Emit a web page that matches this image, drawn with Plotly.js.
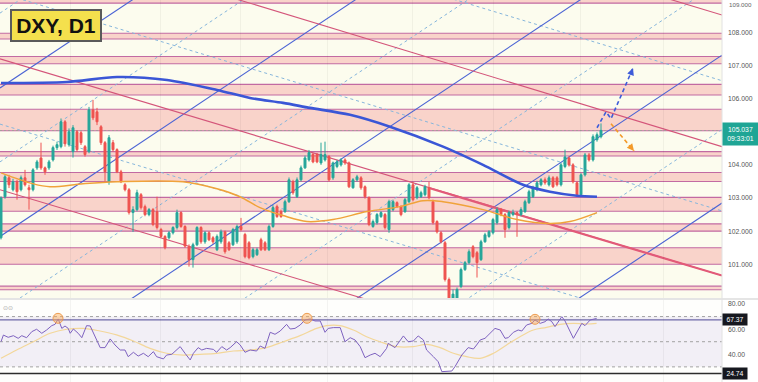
<!DOCTYPE html>
<html><head><meta charset="utf-8">
<script src="https://cdn.plot.ly/plotly-3.0.1.min.js"></script>
<style>html,body{margin:0;padding:0;background:#fff;}#chart{width:758px;height:382px;}</style>
</head><body><div id="chart"></div>
<script>
// ---- Candles (DXY daily) ----
const open = [
101.80,103.04,103.61,103.25,103.49,103.25,103.61,103.31,103.25,103.91,
104.21,103.91,103.91,104.15,104.52,104.55,105.30,104.61,104.40,105.00,
104.97,104.55,104.40,105.66,105.60,105.15,104.67,103.49,104.67,104.46,
103.79,103.40,103.25,102.56,102.65,103.10,102.74,102.50,102.65,102.59,
102.05,101.84,101.80,101.95,102.11,102.56,102.14,101.53,101.14,101.59,
102.11,101.68,101.95,101.80,101.44,101.68,101.98,101.65,101.59,101.68,
102.14,101.90,101.65,101.23,101.29,101.74,101.65,101.44,102.14,102.74,
102.59,102.59,102.89,103.49,103.04,103.55,103.91,104.15,104.31,104.31,
104.06,104.15,104.25,103.61,103.95,104.00,104.15,104.06,103.31,103.55,
103.61,103.34,103.01,102.14,102.26,102.44,102.50,102.05,102.65,102.86,
102.74,102.59,102.89,103.40,103.01,103.04,103.10,103.31,102.89,102.29,
101.95,101.65,100.54,99.85,99.90,100.33,100.84,101.05,101.53,101.35,
101.14,101.68,101.84,101.95,102.26,102.65,102.50,102.11,102.50,102.56,
102.50,102.59,102.86,103.04,103.25,103.40,103.55,103.40,103.61,103.61,
103.40,103.95,104.21,104.00,103.46,103.10,103.70,104.30,104.15,104.76,
104.85];
const high = [
103.05,103.70,103.70,103.58,103.55,103.68,103.85,103.40,103.90,104.15,
104.67,103.95,104.15,104.58,104.70,105.40,105.35,105.10,105.20,105.05,
105.02,104.60,105.75,105.96,105.72,105.20,104.72,104.90,104.75,104.50,
103.85,103.45,103.30,102.75,103.25,103.15,102.80,102.70,102.70,103.04,
102.10,101.88,102.00,102.15,102.65,102.60,102.18,101.60,101.65,102.15,
102.15,102.00,102.00,101.85,101.90,102.05,102.02,101.70,102.10,102.20,
102.40,101.95,101.70,101.50,101.50,101.80,101.70,102.20,102.78,102.80,
102.65,102.95,103.62,103.55,103.62,103.98,104.28,104.45,104.36,104.36,
104.67,104.70,104.30,104.10,104.15,104.20,104.20,104.10,103.60,103.70,
103.66,103.38,103.05,102.35,102.55,102.60,102.55,102.95,102.95,102.90,
102.78,103.00,103.45,103.49,103.36,103.22,103.40,103.49,102.95,102.33,
102.00,101.70,100.60,100.24,100.30,100.90,101.10,101.45,101.58,101.40,
101.74,101.95,102.03,102.40,102.72,102.70,102.55,102.62,102.65,102.60,
102.72,102.95,103.25,103.37,103.52,103.60,103.62,103.68,103.66,103.66,
104.06,104.46,104.26,104.05,103.50,103.75,104.36,104.36,104.92,104.98,
105.25];
const low = [
101.75,102.98,103.30,103.20,102.95,103.20,103.35,102.65,103.20,103.85,
103.85,103.70,103.85,104.10,104.45,104.50,104.55,104.55,104.22,104.40,
104.60,104.25,104.35,105.35,105.20,104.60,103.49,103.40,104.40,103.75,
103.45,103.20,102.50,101.98,102.60,102.65,102.45,102.45,102.15,102.05,
101.80,101.45,101.75,101.90,102.05,102.10,101.50,100.93,100.90,101.55,
101.62,101.62,101.70,101.62,101.40,101.62,101.32,101.40,101.55,101.62,
102.00,101.18,101.15,101.18,101.25,101.40,101.40,101.40,102.10,102.40,
102.40,102.55,102.85,103.10,103.00,103.50,103.88,104.10,104.05,104.05,
104.00,104.10,103.50,103.55,103.90,103.95,104.00,103.30,103.28,103.50,
103.25,102.98,102.15,102.10,102.20,102.40,102.05,101.95,102.60,102.70,
102.45,102.55,102.85,102.90,102.96,103.00,103.05,102.96,102.20,101.93,
101.63,100.48,99.60,99.60,99.80,100.28,100.80,101.00,101.18,100.60,
101.10,101.65,101.80,101.90,102.20,102.45,101.80,102.05,102.45,101.83,
102.45,102.55,102.82,103.00,103.20,103.35,103.40,103.35,103.30,103.35,
103.35,103.90,103.95,103.44,103.04,103.05,103.65,104.10,104.10,104.70,
104.80];
const close = [
103.00,103.64,103.40,103.49,103.19,103.61,103.40,103.25,103.85,104.09,
103.91,103.79,104.09,104.52,104.61,105.30,104.64,105.00,105.12,104.46,
104.67,104.31,105.66,105.42,105.30,104.67,103.79,104.82,104.46,103.79,
103.49,103.25,102.56,102.65,103.16,102.71,102.50,102.65,102.20,102.11,
101.84,101.50,101.95,102.11,102.56,102.14,101.55,101.14,101.59,102.11,
101.68,101.95,101.74,101.68,101.84,101.98,101.38,101.44,102.05,102.14,
102.05,101.23,101.20,101.44,101.44,101.44,101.44,102.14,102.71,102.44,
102.44,102.89,103.55,103.16,103.55,103.91,104.21,104.37,104.09,104.09,
104.31,104.31,103.55,104.06,104.09,104.15,104.06,103.34,103.55,103.64,
103.31,103.04,102.20,102.29,102.50,102.56,102.11,102.89,102.89,102.74,
102.50,102.95,103.40,102.95,103.31,103.16,103.34,103.01,102.26,101.98,
101.68,100.54,99.85,100.10,100.24,100.84,101.05,101.38,101.23,101.05,
101.68,101.89,101.98,102.35,102.65,102.50,102.05,102.56,102.56,102.50,
102.65,102.89,103.19,103.31,103.46,103.55,103.46,103.61,103.34,103.40,
104.00,104.24,104.00,103.49,103.10,103.70,104.30,104.15,104.85,104.91,
105.04];
const lastPrice = 105.037;

// ---- Moving averages (read at sample candles) ----
const smaBlueIdx = [0,16.5,29,41.5,54,62.25,70.5,77.25,87.25,97.25,110.5,120.5,130.5,137.25,144,149];
const smaBlue    = [106.47,106.50,106.65,106.56,106.26,106.02,105.87,105.72,105.51,105.15,104.55,104.00,103.40,103.19,103.07,103.04];
const smaOrangeIdx = [0,8,12.25,20.5,29,45.5,54,59.75,64.75,70.5,76.5,83,91.5,99.75,105.5,110.5,120.5,129,137.25,142.25,149];
const smaOrange    = [103.76,103.43,103.34,103.43,103.49,103.49,103.28,103.04,102.71,102.47,102.29,102.35,102.59,102.74,102.92,102.89,102.65,102.35,102.23,102.29,102.56];

// ---- Horizontal zones (price low / high) ----
const zoneLow  = [108.88,107.80,107.05,106.11,105.03,104.27,103.50,102.60,102.00,101.00,100.23];
const zoneHigh = [109.20,107.97,107.27,106.43,105.68,104.40,103.77,103.02,102.22,101.50,100.34];

// ---- Trend channels: price at left edge / right edge of chart ----
const edgeIdx = [-0.25, 180.25];
const redLeft  = [115.13,111.17,107.20,103.25];
const redRight = [108.52,104.55,100.66,96.73];
const redMidLeft  = [113.15,109.19,105.23];
const redMidRight = [106.54,102.61,98.70];
const blueLeft  = [106.32,101.84,97.32,92.80,88.34];
const blueRight = [120.83,116.35,111.83,107.31,102.85];
const blueMidLeft  = [108.58,104.09,99.58,95.06,90.57];
const blueMidRight = [123.09,118.60,114.08,109.56,105.07];
const boldRedIdx = [107, 180.25];
const boldRedVal = [103.30, 100.66];

// ---- Forecast paths ----
const fcBlueIdx = [149,151.25,152.5,158];
const fcBlueVal = [105.12,105.60,105.39,106.92];
const fcOrangeIdx = [152.5,158.25];
const fcOrangeVal = [105.24,104.42];

// ---- Month separators ----
const monthIdx = [17.25,39.75,59.75,81.5,102.75,123,144.75,165.5];

// ---- RSI ----
const rsiIdx = [0,0.6,1.8,3.1,4.3,5.2,6.4,7.7,8.9,10.2,11.4,12.7,13.5,14.3,15.2,16,16.8,17.3,18.1,19.3,
20.2,21.4,22.3,23.5,24.8,26,27.3,28.5,29.8,31,31.8,33.1,34.3,35.6,36.8,38.1,38.9,40.6,41.4,42.7,
43.5,44.8,46,47.3,48.1,49.3,50.2,51.4,53.1,53.9,55.2,56.4,57.3,58.9,59.8,61,62.3,63.9,64.8,66,
67.3,68.5,69.8,71.4,72.3,73.5,74.8,76,77.3,78.5,79.8,81,81.8,83.1,84.8,86,87.3,88.5,89.8,91,
92.3,93.5,94.8,96.4,96.8,98.5,100.6,101.8,103.1,104.3,105.6,106.4,108.1,109.3,110.2,111.4,112.7,113.5,115.2,116.8,
118.1,118.9,119.8,121,121.8,123.5,124.8,126,126.8,128.1,129.3,130.2,131.4,132.7,133.5,134.8,136,136.8,137.7,138.5,
140.2,141,143.1,144.3,145.2,146,147.3,148.9];
const rsi = [50.0,55.3,53.5,54.8,52.7,54.8,53.2,58.0,59.9,56.7,59.3,62.8,63.8,68.1,60.6,62.5,60.6,56.7,60.1,56.7,
53.2,62.8,62.5,54.0,45.3,45.3,52.2,47.4,43.4,43.4,38.1,41.6,38.6,40.8,38.1,42.1,38.1,36.3,39.4,40.0,
42.6,46.1,40.8,35.5,40.8,45.3,43.4,44.7,43.9,41.6,46.1,43.4,45.3,50.0,47.4,41.6,43.4,42.6,46.6,44.7,
57.5,55.9,58.5,63.8,60.1,60.6,63.3,67.3,68.1,66.5,66.5,57.5,60.6,61.2,61.2,50.0,53.2,51.4,46.1,37.3,
39.4,40.8,38.1,44.7,48.7,45.3,54.6,50.0,50.6,54.6,51.4,43.4,38.1,34.1,26.2,26.7,26.7,30.2,39.4,45.3,
44.2,47.4,51.4,52.7,55.4,60.6,59.3,52.7,53.2,57.5,59.3,58.5,63.3,64.6,67.3,64.6,65.9,68.1,65.9,62.0,
69.9,66.5,52.7,59.3,64.6,62.8,67.3,68.5];
const rsiMaIdx = [0,3.9,8.1,12.3,16.4,20.6,24.75,28.9,33.1,37.25,41.4,45.6,49.75,53.9,58.1,62.25,66.4,70.6,74.75,78.9,
81.4,84.75,88.1,91.4,94.75,98.9,103.1,106.4,109.75,113.1,116.4,119.75,123.1,126.4,129.75,133.1,136.4,139.75,143.1,146.4,148.9];
const rsiMa = [36.8,43.4,50.0,56.7,59.9,60.6,58.5,55.4,50.6,44.7,40.8,39.4,40.0,40.8,42.6,43.4,45.3,50.0,54.8,60.6,
62.8,62.8,59.3,54.0,50.0,46.1,46.1,47.9,45.3,40.8,38.1,36.8,40.8,47.4,54.0,59.3,61.4,63.8,64.6,64.1,64.6];
const rsiPeakIdx = [14.25,76.5,133.5];
const rsiPeakVal = [68.6,68.6,67.8];
const rsiLast = 67.37, rsiLow = 24.74;

const mainTicks = [101,102,103,104,106,107,108];
const rsiTicks = [40,60,80];

// ------------------------------------------------------------
const candleIdx = close.map((_, i) => i);
const GREEN = '#26a69a', RED = '#ef5350';
const FONT = 'Liberation Sans, Arial, sans-serif';

const traces = [
  {type:'candlestick', x:candleIdx, open, high, low, close, xaxis:'x', yaxis:'y',
   increasing:{line:{color:GREEN,width:1}, fillcolor:GREEN},
   decreasing:{line:{color:RED,width:1}, fillcolor:RED},
   whiskerwidth:0, hoverinfo:'skip', showlegend:false},
  {type:'scatter', mode:'lines', x:smaBlueIdx, y:smaBlue, xaxis:'x', yaxis:'y',
   line:{color:'#3a56d6', width:2.6, shape:'spline', smoothing:0.8}, hoverinfo:'skip', showlegend:false},
  {type:'scatter', mode:'lines', x:smaOrangeIdx, y:smaOrange, xaxis:'x', yaxis:'y',
   line:{color:'#f0a33a', width:1.5, shape:'spline'}, hoverinfo:'skip', showlegend:false},
  {type:'scatter', mode:'lines', x:fcBlueIdx, y:fcBlueVal, xaxis:'x', yaxis:'y',
   line:{color:'#3d5bd9', width:1.6, dash:'4px,3px'}, hoverinfo:'skip', showlegend:false},
  {type:'scatter', mode:'lines', x:fcOrangeIdx, y:fcOrangeVal, xaxis:'x', yaxis:'y',
   line:{color:'#f39a2a', width:1.6, dash:'4px,3px'}, hoverinfo:'skip', showlegend:false},
  {type:'scatter', mode:'lines', x:rsiMaIdx, y:rsiMa, xaxis:'x', yaxis:'y2',
   line:{color:'#f3d79a', width:1.2, shape:'spline'}, hoverinfo:'skip', showlegend:false},
  {type:'scatter', mode:'lines', x:rsiIdx, y:rsi, xaxis:'x', yaxis:'y2',
   line:{color:'#7e62c0', width:1}, hoverinfo:'skip', showlegend:false},
  {type:'scatter', mode:'markers', x:rsiPeakIdx, y:rsiPeakVal, xaxis:'x', yaxis:'y2',
   marker:{size:10, color:'rgba(255,170,80,0.45)', line:{color:'rgba(235,150,70,0.9)', width:1}},
   hoverinfo:'skip', showlegend:false}
];

const shapes = [];
// RSI pane background
shapes.push({type:'rect', layer:'below', xref:'paper', x0:0, x1:1, yref:'y2', y0:0, y1:100, fillcolor:'#fefefc', line:{width:0}});
shapes.push({type:'rect', layer:'below', xref:'paper', x0:0, x1:1, yref:'y2', y0:30, y1:70, fillcolor:'rgba(126,87,194,0.09)', line:{width:0}});
// zones
zoneLow.forEach((lo, k) => {
  const hi = zoneHigh[k];
  shapes.push({type:'rect', layer:'below', xref:'paper', x0:0, x1:1, yref:'y', y0:lo, y1:hi, fillcolor:'#f9d3ca', line:{width:0}});
  [lo, hi].forEach(v => shapes.push({type:'line', layer:'below', xref:'paper', x0:0, x1:1, yref:'y', y0:v, y1:v, line:{color:'#c26aa2', width:1.1}}));
});
// current price dashed line
shapes.push({type:'line', layer:'below', xref:'paper', x0:0, x1:1, yref:'y', y0:lastPrice, y1:lastPrice, line:{color:'#a89a9a', width:1, dash:'2px,2px'}});
function seg(l, r, color, width, dash) {
  shapes.push({type:'line', layer:'below', xref:'x', yref:'y', x0:edgeIdx[0], x1:edgeIdx[1], y0:l, y1:r,
               line:{color, width, dash: dash || 'solid'}});
}
blueMidLeft.forEach((l,k) => seg(l, blueMidRight[k], '#86b6dc', 1, '3px,3px'));
redMidLeft.forEach((l,k) => seg(l, redMidRight[k], '#86b6dc', 1, '3px,3px'));
blueLeft.forEach((l,k) => seg(l, blueRight[k], '#4a63d4', 1.1));
redLeft.forEach((l,k) => seg(l, redRight[k], '#d4557a', 1.1));
shapes.push({type:'line', layer:'below', xref:'x', yref:'y', x0:boldRedIdx[0], x1:boldRedIdx[1], y0:boldRedVal[0], y1:boldRedVal[1], line:{color:'#e25a78', width:2.2}});
// RSI levels
[70,50,30].forEach(v => shapes.push({type:'line', layer:'below', xref:'paper', x0:0, x1:1, yref:'y2', y0:v, y1:v, line:{color:'#a3a3a3', width:1, dash:'3px,3px'}}));
shapes.push({type:'line', layer:'below', xref:'paper', x0:0, x1:1, yref:'y2', y0:rsiLast, y1:rsiLast, line:{color:'#6f6aa8', width:1.2}});
shapes.push({type:'line', layer:'above', xref:'paper', x0:0, x1:1, yref:'y2', y0:rsiLow, y1:rsiLow, line:{color:'#2c2c2c', width:1.6}});
// pane separator and right axis border
shapes.push({type:'line', layer:'above', xref:'paper', x0:0, x1:1.05, yref:'paper', y0:0.2173, y1:0.2173, line:{color:'#dcdcdc', width:1.5}});
shapes.push({type:'line', layer:'above', xref:'paper', x0:1, x1:1, yref:'paper', y0:0, y1:1, line:{color:'#e2e2e2', width:1}});

const annotations = [
  {xref:'paper', yref:'paper', x:0.0776, y:0.9332, xanchor:'center', yanchor:'middle', showarrow:false,
   text:'<b>DXY, D1</b>', font:{family:FONT, size:21, color:'#111'}, bgcolor:'#f4e04d',
   bordercolor:'#5a5a5a', borderwidth:2, borderpad:1, width:86, height:27},
  {xref:'paper', yref:'y', x:1, y:lastPrice, xanchor:'left', yanchor:'middle', yshift:-3.5, showarrow:false,
   text:lastPrice.toFixed(3)+'<br>09:33:01', font:{family:FONT, size:6.8, color:'#fff'}, bgcolor:'#1fa595',
   borderpad:1, width:33, height:20, align:'center'},
  {xref:'paper', yref:'y2', x:1, y:rsiLast, xanchor:'left', yanchor:'middle', showarrow:false,
   text:rsiLast.toFixed(2), font:{family:FONT, size:6.8, color:'#fff'}, bgcolor:'#16181f', borderpad:1, width:22, height:9},
  {xref:'paper', yref:'y2', x:1, y:rsiLow, xanchor:'left', yanchor:'middle', showarrow:false,
   text:rsiLow.toFixed(2), font:{family:FONT, size:6.8, color:'#fff'}, bgcolor:'#16181f', borderpad:1, width:22, height:9},
  {xref:'paper', yref:'paper', x:1, xshift:5, y:1, yshift:1, xanchor:'left', yanchor:'top', showarrow:false,
   text:'109.000', font:{family:FONT, size:6.2, color:'#666'}},
  {xref:'paper', yref:'paper', x:0.002, y:0.196, xanchor:'left', yanchor:'middle', showarrow:false,
   text:'⊙⊙', font:{family:'DejaVu Sans', size:6, color:'#aaa'}},
  // arrow heads of forecast paths
  {xref:'x', yref:'y', x:fcBlueIdx[3], y:fcBlueVal[3], ax:-3, ay:8, showarrow:true, arrowhead:2, arrowsize:1, arrowwidth:1.4, arrowcolor:'#3d5bd9', text:''},
  {xref:'x', yref:'y', x:fcOrangeIdx[1], y:fcOrangeVal[1], ax:-5, ay:-6, showarrow:true, arrowhead:2, arrowsize:1, arrowwidth:1.4, arrowcolor:'#f39a2a', text:''}
];

const layout = {
  width:758, height:382,
  margin:{l:0, r:36, t:0, b:0, pad:0},
  paper_bgcolor:'#ffffff', plot_bgcolor:'#fcfcee',
  showlegend:false,
  xaxis:{domain:[0,1], range:[-0.25,180.25], anchor:'y', showticklabels:false, ticks:'',
         tickvals:monthIdx, showgrid:true, gridcolor:'rgba(0,0,0,0.045)', gridwidth:1,
         zeroline:false, showline:false, rangeslider:{visible:false}, fixedrange:true},
  yaxis:{domain:[0.2199,1], range:[99.983,108.975], side:'right', anchor:'x',
         tickvals:mainTicks, ticktext:mainTicks.map(v => v.toFixed(3)),
         tickfont:{family:FONT, size:6.8, color:'#555'}, ticks:'', ticklabelstandoff:5,
         showgrid:false, zeroline:false, showline:false, fixedrange:true},
  yaxis2:{domain:[0,0.2147], range:[17.97,83.18], side:'right', anchor:'x',
          tickvals:rsiTicks, ticktext:rsiTicks.map(v => v.toFixed(2)),
          tickfont:{family:FONT, size:6.8, color:'#555'}, ticks:'', ticklabelstandoff:5,
          showgrid:false, zeroline:false, showline:false, fixedrange:true},
  shapes, annotations
};

Plotly.newPlot('chart', traces, layout, {staticPlot:true, displayModeBar:false});
</script>
</body></html>
